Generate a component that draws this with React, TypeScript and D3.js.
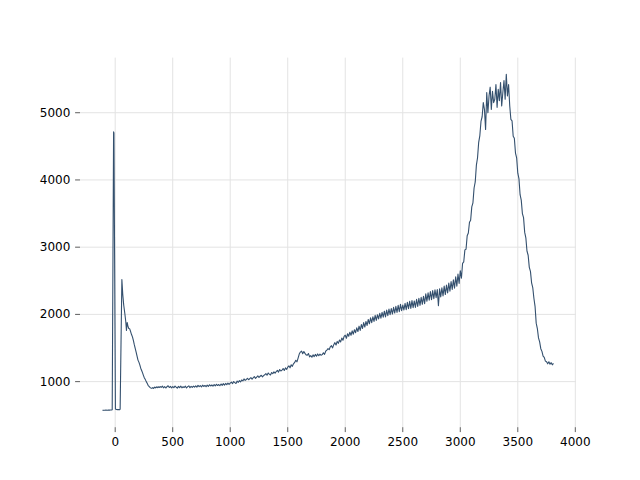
import React from "react";
import * as d3 from "d3";

// Lead section: explicit (x, y) pairs covering the laser line and the first band
const leadX = [
  -110, -100, -90, -80, -70, -60, -50, -40, -30, -26, -14, -11, 2, 10, 20, 30, 38, 43, 58, 66,
  74, 84, 92, 98, 104, 110, 118, 126, 134, 142, 150, 158, 166, 174, 182, 190, 198, 206, 214, 222,
  230, 238, 246, 254, 262, 270, 278, 286, 294, 302, 310, 318, 326, 334, 342, 350, 358, 366, 374, 382, 390,
];
const leadY = [
  572, 575, 574, 576, 575, 577, 576, 578, 579, 582, 4715, 4700, 592, 585, 583, 584, 582, 590, 2520, 2290,
  2140, 2010, 1890, 1760, 1880, 1830, 1790, 1785, 1745, 1700, 1665, 1615, 1550, 1495, 1440, 1380, 1320, 1290, 1250, 1200,
  1165, 1130, 1090, 1055, 1030, 1000, 975, 945, 930, 915, 905, 900, 912, 898, 918, 906, 921, 909, 924, 912, 927,
];

// Main body: evenly spaced samples from 400 with a 10-unit step
const bodyStart = 400;
const bodyStep = 10;
const bodyY = [
  915, 933, 908, 927, 905, 924, 938, 912, 929, 907,
  926, 910, 934, 917, 904, 929, 912, 933, 908, 924,
  913, 932, 906, 926, 937, 910, 930, 915, 934, 918,
  938, 919, 944, 925, 941, 922, 947, 928, 943, 924,
  948, 930, 954, 935, 950, 932, 957, 937, 961, 942,
  957, 939, 965, 945, 970, 948, 973, 954, 977, 958,
  978, 992, 970, 1001, 985, 972, 1008, 990, 1015, 996,
  1025, 1010, 1040, 1018, 1032, 1050, 1028, 1045, 1060, 1036,
  1058, 1075, 1049, 1068, 1085, 1062, 1080, 1095, 1071, 1090,
  1102, 1120, 1095, 1128, 1112, 1098, 1135, 1118, 1145, 1125,
  1150, 1168, 1142, 1180, 1158, 1172, 1195, 1165, 1205, 1182,
  1215, 1235, 1205, 1250, 1228, 1265, 1285, 1318, 1295, 1350,
  1410, 1440, 1455, 1415, 1448, 1420, 1398, 1392, 1418, 1368,
  1388, 1362, 1398, 1372, 1405, 1378, 1412, 1385, 1408, 1392,
  1402, 1430, 1405, 1452, 1470, 1490, 1475, 1518, 1535, 1502,
  1550, 1580, 1545, 1598, 1570, 1620, 1590, 1648, 1615, 1672,
  1690, 1645, 1712, 1675, 1735, 1690, 1755, 1705, 1772, 1728,
  1800, 1745, 1825, 1762, 1850, 1790, 1878, 1812, 1895, 1835,
  1925, 1860, 1948, 1878, 1965, 1895, 1985, 1912, 1995, 1932,
  2015, 1945, 2030, 1958, 2048, 1962, 2065, 1980, 2080, 1995,
  2088, 2005, 2105, 2020, 2120, 2030, 2135, 2040, 2150, 2055,
  2140, 2065, 2165, 2070, 2180, 2085, 2195, 2090, 2205, 2100,
  2200, 2105, 2225, 2120, 2240, 2135, 2255, 2150, 2270, 2160,
  2305, 2195, 2320, 2210, 2340, 2220, 2355, 2235, 2365, 2250,
  2370, 2130, 2380, 2260, 2395, 2275, 2420, 2295, 2435, 2320,
  2465, 2345, 2490, 2370, 2515, 2390, 2560, 2420, 2600, 2460,
  2650, 2540, 2760, 2780, 2960, 2970, 3170, 3210, 3370, 3400,
  3600, 3660, 3880, 3970, 4220, 4330, 4560, 4660, 4870, 4940,
  5150, 5050, 4750, 5300, 5000, 5250, 5380, 5050, 5320, 5150,
  5200, 5420, 5080, 5350, 5180, 5450, 5100, 5300, 5480, 5200,
  5570, 5250, 5420, 5100, 4900, 4880, 4650, 4620, 4400, 4330,
  4100, 4020, 3780, 3700, 3500, 3440, 3220, 3140, 2940, 2880,
  2700, 2640, 2470, 2400, 2240, 2120, 1870, 1790, 1650, 1590,
  1490, 1450, 1380, 1360, 1305, 1295, 1265, 1295, 1258, 1282,
  1250, 1272,
];

const xTicks = [0, 500, 1000, 1500, 2000, 2500, 3000, 3500, 4000];
const yTicks = [1000, 2000, 3000, 4000, 5000];

const W = 640;
const H = 480;
const left = 80;
const right = 576;
const top = 57.6;
const bottom = 427.2;

export default function App() {
  const points: [number, number][] = [];
  leadX.forEach((x, i) => points.push([x, leadY[i]]));
  bodyY.forEach((y, i) => points.push([bodyStart + i * bodyStep, y]));

  const [x0, x1] = d3.extent(points, (p) => p[0]) as [number, number];
  const [y0, y1] = d3.extent(points, (p) => p[1]) as [number, number];
  const px = (x1 - x0) * 0.05;
  const py = (y1 - y0) * 0.05;

  const x = d3.scaleLinear().domain([x0 - px, x1 + px]).range([left, right]);
  const y = d3.scaleLinear().domain([y0 - py, y1 + py]).range([bottom, top]);

  const line = d3
    .line<[number, number]>()
    .x((d) => x(d[0]))
    .y((d) => y(d[1]));

  const font = "DejaVu Sans, sans-serif";

  return (
    <svg
      width={W}
      height={H}
      style={{ position: "absolute", left: 0, top: 0, background: "#fff" }}
    >
      <g>
        {xTicks.map((t) => (
          <line key={"gx" + t} x1={x(t)} x2={x(t)} y1={top} y2={bottom} stroke="#e3e3e3" strokeWidth={1} />
        ))}
        {yTicks.map((t) => (
          <line key={"gy" + t} x1={left} x2={right} y1={y(t)} y2={y(t)} stroke="#e3e3e3" strokeWidth={1} />
        ))}
      </g>
      <path d={line(points) || ""} fill="none" stroke="#34506e" strokeWidth={1.1} strokeLinejoin="round" />
      <g fontFamily={font} fontSize={12} fill="#000">
        {xTicks.map((t) => (
          <g key={"tx" + t}>
            <line x1={x(t)} x2={x(t)} y1={bottom} y2={bottom + 4.9} stroke="#333" strokeWidth={0.8} />
            <text x={x(t)} y={bottom + 9.7} textAnchor="middle" dominantBaseline="hanging">
              {t}
            </text>
          </g>
        ))}
        {yTicks.map((t) => (
          <g key={"ty" + t}>
            <line x1={left - 4.9} x2={left} y1={y(t)} y2={y(t)} stroke="#333" strokeWidth={0.8} />
            <text x={left - 9.7} y={y(t)} textAnchor="end" dominantBaseline="central">
              {t}
            </text>
          </g>
        ))}
      </g>
    </svg>
  );
}
